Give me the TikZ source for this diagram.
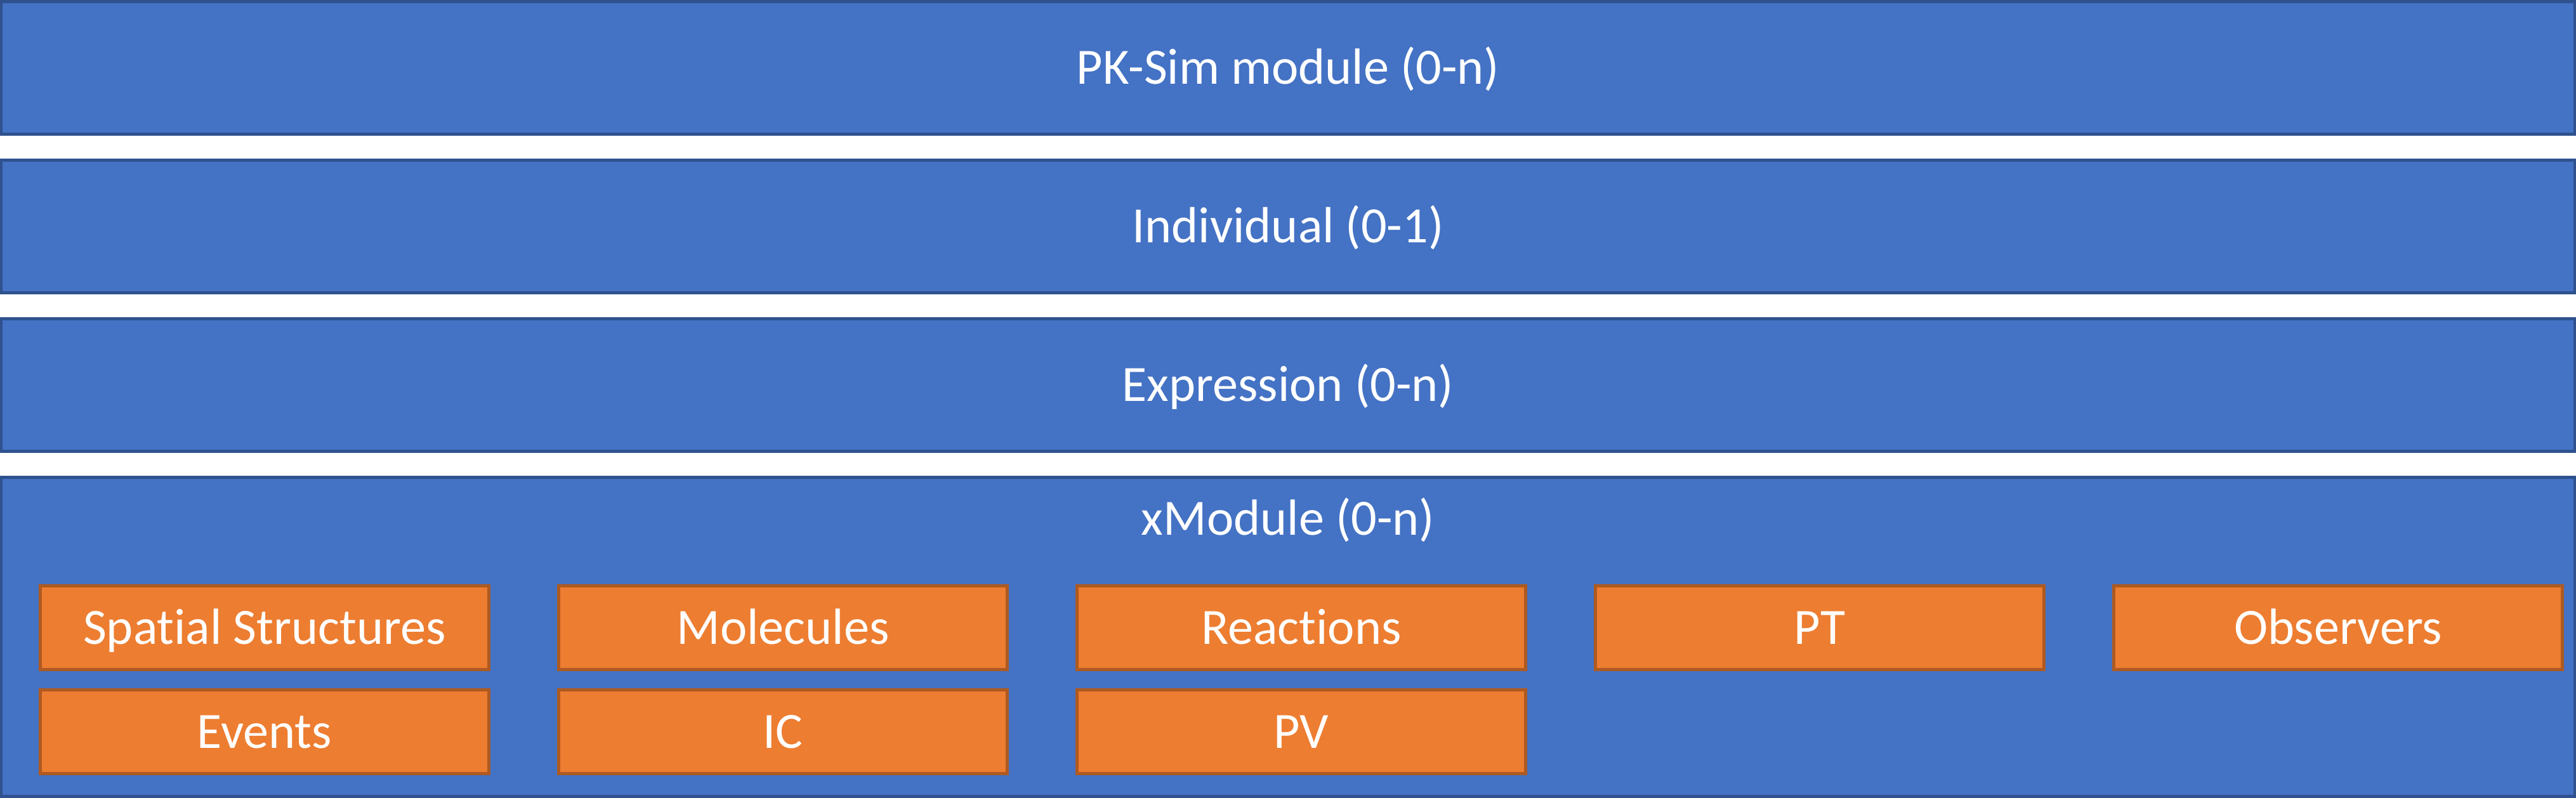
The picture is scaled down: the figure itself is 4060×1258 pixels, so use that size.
\documentclass[tikz,border=0pt]{standalone}
\usepackage{fontspec}
\setmainfont[Ligatures=NoCommon]{Carlito}
\definecolor{bluefill}{HTML}{4472C4}
\definecolor{blueline}{HTML}{2F528F}
\definecolor{orangefill}{HTML}{ED7D31}
\definecolor{orangeline}{HTML}{AE5A21}
\tikzset{
  lbl/.style={text=white, font=\fontsize{22.8pt}{27pt}\selectfont, inner sep=0pt, text height=0.515cm, text depth=0pt},
  bluebox/.style={lbl, draw=blueline, fill=bluefill, line width=0.05cm, minimum width=40.55cm},
  orangebox/.style={lbl, draw=orangeline, fill=orangefill, line width=0.05cm, minimum width=7.07cm, minimum height=1.31cm},
}
\begin{document}
\begin{tikzpicture}[x=0.01cm, y=-0.01cm]
\useasboundingbox (0,0) rectangle (4060,1258);
\node[bluebox, minimum height=2.09cm] (pk) at (2030,107) {PK-Sim module (0-n)};
\node[bluebox, minimum height=2.09cm] (ind) at (2030,357) {Individual (0-1)};
\node[bluebox, minimum height=2.09cm] (expr) at (2030,607) {Expression (0-n)};
\node[bluebox, minimum height=5.03cm] (xmod) at (2030,1004) {};
\node[lbl] (xmodlbl) at (2030,818) {xModule (0-n)};
\node[orangebox] (spat) at (417,989.5) {Spatial Structures};
\node[orangebox] (mol) at (1234,989.5) {Molecules};
\node[orangebox] (reac) at (2051,989.5) {Reactions};
\node[orangebox] (pt) at (2868,989.5) {PT};
\node[orangebox] (obs) at (3685,989.5) {Observers};
\node[orangebox] (ev) at (417,1153.5) {Events};
\node[orangebox] (ic) at (1234,1153.5) {IC};
\node[orangebox] (pv) at (2051,1153.5) {PV};
\end{tikzpicture}
\end{document}
